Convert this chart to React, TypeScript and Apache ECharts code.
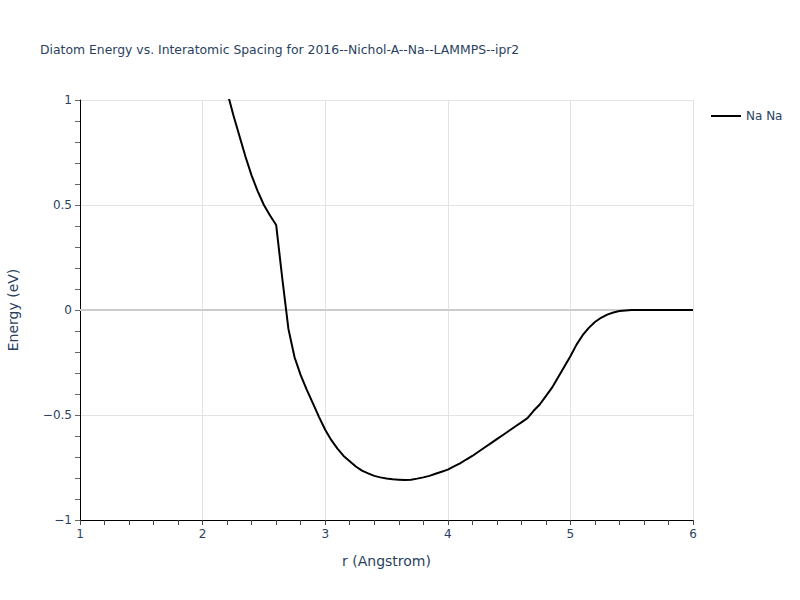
import React, { useEffect, useRef } from "react";
import * as echarts from "echarts";

const rValues = [
  2.2, 2.25, 2.3, 2.35, 2.4, 2.45, 2.5, 2.55, 2.6, 2.65, 2.7, 2.75, 2.8, 2.85, 2.9, 2.95,
  3.0, 3.05, 3.1, 3.15, 3.2, 3.25, 3.3, 3.35, 3.4, 3.45, 3.5, 3.55, 3.6, 3.65, 3.7, 3.75,
  3.8, 3.85, 3.9, 3.95, 4.0, 4.05, 4.1, 4.15, 4.2, 4.25, 4.3, 4.35, 4.4, 4.45, 4.5, 4.55,
  4.6, 4.65, 4.7, 4.75, 4.8, 4.85, 4.9, 4.95, 5.0, 5.05, 5.1, 5.15, 5.2, 5.25, 5.3, 5.35,
  5.4, 5.45, 5.5, 5.6, 5.7, 5.8, 5.9, 6.0,
];
const energyValues = [
  1.04, 0.93, 0.83, 0.73, 0.64, 0.565, 0.5, 0.45, 0.405, 0.15, -0.09, -0.225, -0.31, -0.38, -0.445, -0.51,
  -0.57, -0.62, -0.66, -0.695, -0.72, -0.745, -0.765, -0.778, -0.79, -0.797, -0.802, -0.806, -0.808, -0.81, -0.808, -0.803,
  -0.797, -0.79, -0.78, -0.77, -0.76, -0.745, -0.73, -0.712, -0.695, -0.675, -0.655, -0.635, -0.615, -0.595, -0.575, -0.555,
  -0.535, -0.515, -0.48, -0.45, -0.41, -0.37, -0.32, -0.27, -0.22, -0.165, -0.12, -0.085, -0.057, -0.037, -0.022, -0.012,
  -0.005, -0.002, 0, 0, 0, 0, 0, 0,
];
const seriesName = "Na Na";
const titleText = "Diatom Energy vs. Interatomic Spacing for 2016--Nichol-A--Na--LAMMPS--ipr2";

const textColor = "#2a3f5f";
const font = "'DejaVu Sans', Verdana, sans-serif";

export default function App() {
  const ref = useRef<HTMLDivElement>(null);
  useEffect(() => {
    if (!ref.current) return;
    const chart = echarts.init(ref.current, undefined, { renderer: "svg" });
    const data = rValues.map((r, i) => [r, energyValues[i]]);
    chart.setOption({
      animation: false,
      backgroundColor: "#ffffff",
      textStyle: { fontFamily: font },
      title: {
        text: titleText,
        left: 35,
        top: 38,
        textStyle: { fontFamily: font, fontSize: 12.4, fontWeight: "normal", color: textColor },
      },
      legend: {
        data: [seriesName],
        left: 706,
        top: 105,
        itemWidth: 30,
        itemHeight: 2,
        itemGap: 5,
        icon: "rect",
        textStyle: { fontFamily: font, fontSize: 12, color: textColor },
      },
      grid: {
        left: 80,
        right: 107,
        top: 100,
        bottom: 80,
        containLabel: false,
        outerBoundsMode: "none",
      },
      xAxis: {
        type: "value",
        min: 1,
        max: 6,
        interval: 1,
        name: "r (Angstrom)",
        nameLocation: "middle",
        nameGap: 34,
        nameTextStyle: { fontFamily: font, fontSize: 14, color: textColor },
        axisLine: { show: true, onZero: false, lineStyle: { color: "#000000", width: 1 } },
        axisTick: { show: true, inside: false, length: 5, lineStyle: { color: "#444444" } },
        minorTick: { show: true, splitNumber: 5, length: 5, lineStyle: { color: "#444444" } },
        axisLabel: { fontFamily: font, fontSize: 12, color: textColor, margin: 8 },
        splitLine: { show: true, lineStyle: { color: "#e3e3e3", width: 1 } },
      },
      yAxis: {
        type: "value",
        min: -1,
        max: 1,
        interval: 0.5,
        name: "Energy (eV)",
        nameLocation: "middle",
        nameGap: 60,
        nameTextStyle: { fontFamily: font, fontSize: 14, color: textColor },
        axisLine: { show: true, onZero: false, lineStyle: { color: "#000000", width: 1 } },
        axisTick: { show: true, inside: false, length: 5, lineStyle: { color: "#666666" } },
        minorTick: { show: true, splitNumber: 5, length: 5, lineStyle: { color: "#666666" } },
        axisLabel: {
          fontFamily: font,
          fontSize: 12,
          color: textColor,
          margin: 8,
          formatter: (v: number) => String(v).replace("-", "\u2212"),
        },
        splitLine: { show: true, lineStyle: { color: "#e3e3e3", width: 1 } },
      },
      series: [
        {
          name: "zero",
          type: "line",
          data: [[1, 0], [6, 0]],
          showSymbol: false,
          symbol: "none",
          silent: true,
          z: 1,
          lineStyle: { color: "#cccccc", width: 2 },
        },
        {
          name: seriesName,
          type: "line",
          data,
          showSymbol: false,
          symbol: "none",
          clip: true,
          z: 3,
          color: "#000000",
          lineStyle: { color: "#000000", width: 2 },
        },
      ],
    });
    return () => chart.dispose();
  }, []);
  return <div ref={ref} style={{ width: 800, height: 600, position: "absolute", left: 0, top: 0 }} />;
}
